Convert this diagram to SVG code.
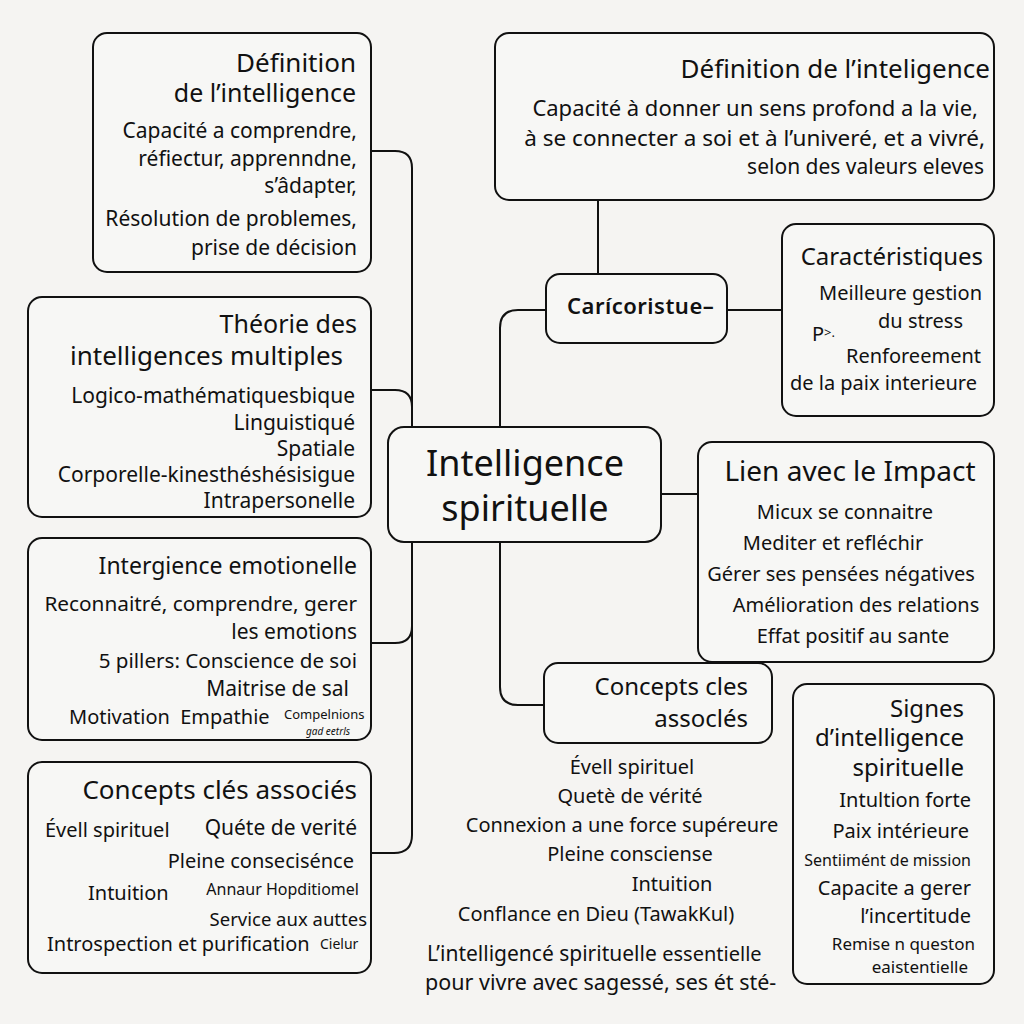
<svg xmlns="http://www.w3.org/2000/svg" width="1024" height="1024" viewBox="0 0 1024 1024">
<style>
text{font-family:"Noto Sans","Open Sans","DejaVu Sans",sans-serif;fill:#111}
.box{fill:#f7f7f5;stroke:#111;stroke-width:2}
.c{fill:none;stroke:#111;stroke-width:2}
.t{font-size:25px}
.b{font-size:20px}
.b2{font-size:21px}
.r{text-anchor:end}
.m{text-anchor:middle}
</style>
<rect width="1024" height="1024" fill="#f5f4f2"/>
<g id="connectors">
<path class="c" d="M371,151 H395 Q412,151 412,168 V835 Q412,853 394,853 H371"/>
<path class="c" d="M371,390 H395 Q412,390 412,407"/>
<path class="c" d="M371,643 H395 Q412,643 412,626"/>
<path class="c" d="M598,200 V274"/>
<path class="c" d="M546,310 H518 Q500,310 500,328 V427"/>
<path class="c" d="M500,542 V687 Q500,705 518,705 H544"/>
<path class="c" d="M727,310 H782"/>
<path class="c" d="M661,494 H698"/>
</g>
<g id="def-left">
<rect class="box" x="93" y="33" width="278" height="239" rx="14"/>
<text class="r" x="356" y="72" style="font-size:26px">Définition</text>
<text class="t r" x="356" y="102">de l’intelligence</text>
<text class="b2 r" x="357" y="138">Capacité a comprendre,</text>
<text class="b2 r" x="357" y="166">réfiectur, apprenndne,</text>
<text class="b2 r" x="357" y="193">s’âdapter,</text>
<text class="b2 r" x="357" y="226">Résolution de problemes,</text>
<text class="b2 r" x="357" y="255">prise de décision</text>
</g>
<g id="def-right">
<rect class="box" x="495" y="33" width="499" height="167" rx="14"/>
<text class="r" x="990" y="78" style="font-size:26px">Définition de l’inteligence</text>
<text class="r" x="978" y="116" style="font-size:22px">Capacité à donner un sens profond a la vie,</text>
<text class="r" x="985" y="146" style="font-size:22.5px">à se connecter a soi et à l’univeré, et a vivré,</text>
<text class="r" x="984" y="174" style="font-size:21px">selon des valeurs eleves</text>
</g>
<g id="caricoristue">
<rect class="box" x="546" y="274" width="181" height="69" rx="14"/>
<text x="567" y="314" style="font-size:22px;font-weight:600;letter-spacing:0.5px">Carícoristue–</text>
</g>
<g id="caracteristiques">
<rect class="box" x="782" y="224" width="212" height="192" rx="14"/>
<text class="r" x="983" y="265" style="font-size:24px">Caractéristiques</text>
<text class="b r" x="982" y="300">Meilleure gestion</text>
<text class="b r" x="963" y="328">du stress</text>
<text x="812" y="341" style="font-size:20px">P<tspan style="font-size:13px" dy="-4">&gt;.</tspan></text>
<text class="b r" x="981" y="363">Renforeement</text>
<text class="b r" x="977" y="390">de la paix interieure</text>
</g>
<g id="theorie">
<rect class="box" x="28" y="297" width="343" height="220" rx="14"/>
<text class="t r" x="357" y="333">Théorie des</text>
<text class="r" x="343" y="365" style="font-size:26px">intelligences multiples</text>
<text class="b2 r" x="355" y="403">Logico-mathématiquesbique</text>
<text class="b2 r" x="355" y="430">Linguistiqué</text>
<text class="b2 r" x="355" y="456">Spatiale</text>
<text class="b2 r" x="355" y="482">Corporelle-kinesthéshésisigue</text>
<text class="b2 r" x="355" y="508">Intrapersonelle</text>
</g>
<g id="central">
<rect class="box" x="388" y="427" width="273" height="115" rx="16"/>
<text class="m" x="525" y="476" style="font-size:36px">Intelligence</text>
<text class="m" x="525" y="521" style="font-size:36px">spirituelle</text>
</g>
<g id="lien">
<rect class="box" x="698" y="442" width="296" height="220" rx="14"/>
<text x="850" y="481" class="m" style="font-size:28px">Lien avec le Impact</text>
<text class="b m" x="845" y="519">Micux se connaitre</text>
<text class="b m" x="833" y="550">Mediter et refléchir</text>
<text class="b m" x="841" y="581">Gérer ses pensées négatives</text>
<text class="b m" x="856" y="612">Amélioration des relations</text>
<text class="b m" x="853" y="643">Effat positif au sante</text>
</g>
<g id="emotionelle">
<rect class="box" x="28" y="538" width="343" height="202" rx="14"/>
<text class="r" x="357" y="574" style="font-size:23px">Intergience emotionelle</text>
<text class="r" x="357" y="611" style="font-size:20.8px">Reconnaitré, comprendre, gerer</text>
<text class="b2 r" x="357" y="639">les emotions</text>
<text class="r" x="357" y="668" style="font-size:20.6px">5 pillers: Conscience de soi</text>
<text class="b2 r" x="349" y="696">Maitrise de sal</text>
<text class="b" x="69" y="724" xml:space="preserve">Motivation  Empathie</text>
<text x="284" y="719" style="font-size:13px">Compelnions</text>
<text x="306" y="735" style="font-size:10px;font-style:italic">gad eetrls</text>
</g>
<g id="concepts-center">
<rect class="box" x="544" y="663" width="228" height="80" rx="14"/>
<text class="r" x="748" y="695" style="font-size:24px">Concepts cles</text>
<text class="r" x="748" y="727" style="font-size:24px">assoclés</text>
</g>
<g id="concepts-list">
<text class="b m" x="632" y="774">Évell spirituel</text>
<text class="b m" x="630" y="803">Quetè de vérité</text>
<text class="b m" x="622" y="832">Connexion a une force supéreure</text>
<text class="b m" x="630" y="861">Pleine consciense</text>
<text class="b m" x="672" y="891">Intuition</text>
<text class="b m" x="596" y="921">Conflance en Dieu (TawakKul)</text>
<text x="427" y="961" style="font-size:21px">L’intelligencé spirituelle <tspan style="font-size:20px">essentielle</tspan></text>
<text x="425" y="990" style="font-size:21.5px">pour vivre avec sagessé, ses ét sté-</text>
</g>
<g id="signes">
<rect class="box" x="793" y="684" width="201" height="300" rx="14"/>
<text class="r" x="964" y="717" style="font-size:24px">Signes</text>
<text class="r" x="964" y="746" style="font-size:24px">d’intelligence</text>
<text class="r" x="964" y="776" style="font-size:24px">spirituelle</text>
<text class="b r" x="971" y="807">Intultion forte</text>
<text class="b r" x="969" y="838">Paix intérieure</text>
<text class="r" x="971" y="866" style="font-size:16px">Sentiimént de mission</text>
<text class="b r" x="971" y="895">Capacite a gerer</text>
<text class="b r" x="971" y="923">l’incertitude</text>
<text class="r" x="975" y="950" style="font-size:17px">Remise n queston</text>
<text class="r" x="968" y="973" style="font-size:17px">eaistentielle</text>
</g>
<g id="concepts-left">
<rect class="box" x="28" y="762" width="343" height="211" rx="14"/>
<text class="r" x="357" y="799" style="font-size:26px">Concepts clés associés</text>
<text class="b" x="45" y="837">Évell spirituel</text>
<text class="b2 r" x="357" y="835">Quéte de verité</text>
<text class="b r" x="354" y="868">Pleine consecisénce</text>
<text class="b" x="88" y="900">Intuition</text>
<text class="r" x="359" y="895" style="font-size:16px">Annaur Hopditiomel</text>
<text class="r" x="367" y="926" style="font-size:18.5px">Service aux auttes</text>
<text class="b" x="47" y="951">Introspection et purification</text>
<text x="320" y="949" style="font-size:14px">Cielur</text>
</g>
</svg>
